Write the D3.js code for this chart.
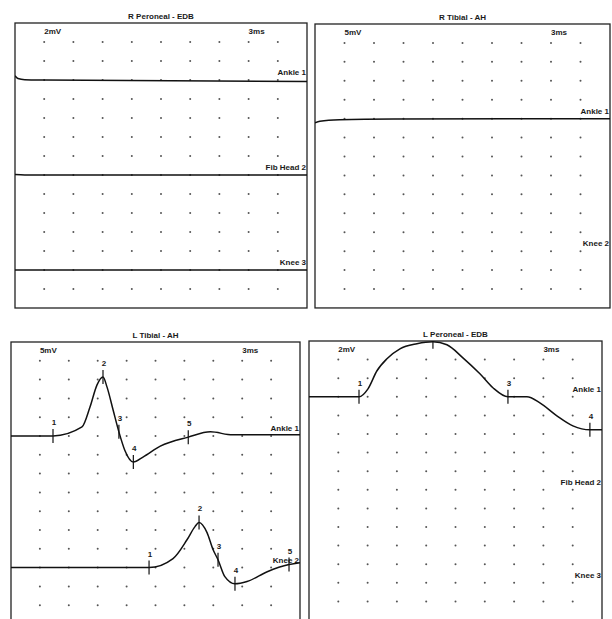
<!DOCTYPE html>
<html>
<head>
<meta charset="utf-8">
<script src="https://cdn.jsdelivr.net/npm/d3@7"></script>
<style>
body{margin:0;background:#fff;}
text{font-family:"Liberation Sans",Arial,sans-serif;font-size:8px;font-weight:bold;fill:#1a1a1a;}
</style>
</head>
<body>
<svg id="chart" width="612" height="619"></svg>
<script>
//nerve conduction traces, 4 panels

var panelTitles = ["R Peroneal - EDB", "R Tibial - AH", "L Tibial - AH", "L Peroneal - EDB"];
var gainLabels = ["2mV", "5mV", "5mV", "2mV"];
var gainValues = [2, 5, 5, 2];      //mV per division
var sweepLabel = "3ms";
var sweepValue = 3;                 //ms per division
var siteNames = [
	["Ankle 1", "Fib Head 2", "Knee 3"],
	["Ankle 1", "Knee 2"],
	["Ankle 1", "Knee 2"],
	["Ankle 1", "Fib Head 2", "Knee 3"]
];
//division on which each site's baseline sits
var siteBaseDiv = [[3, 8, 13], [5, 12], [5, 12], [3, 8, 13]];

//traces: [ms, mV]
var rPeronealAnkle = [[0,0.45],[0.3,0.15],[1,0.03],[3,0],[30,-0.15]];
var rPeronealFib = [[0,0.05],[1,0],[30,0]];
var rPeronealKnee = [[0,0],[30,0]];
var rTibialAnkle = [[0,-1.1],[0.5,-0.7],[2.5,-0.3],[8,-0.1],[30,0]];
var lTibialAnkle = [[0,0],[4.36,0],[7.37,2.4],[8.2,7.7],[8.93,13.6],[9.55,15.7],[9.97,13],[10.6,6.9],[11.2,1.1],[11.8,-3.7],[12.7,-6.9],[13.7,-5.6],[15.5,-2.7],[18.4,-0.3],[20.7,1.1],[23,0.3],[30,0.3]];
var lTibialKnee = [[0,0],[14.33,0],[16.82,2.4],[18.27,7.4],[19.1,10.9],[19.52,12],[20.35,9.3],[20.97,4.8],[21.49,2.1],[22.2,-2.4],[23.25,-4.3],[24.5,-3.7],[26.6,-1.1],[28.86,0.8],[30,1.3]];
var lPeronealAnkle = [[0,0],[5.12,0],[6.04,0.86],[6.96,2.8],[7.98,4.09],[9.31,5.16],[11.05,5.7],[12.69,5.91],[14.12,5.59],[15.76,4.19],[17.5,2.47],[18.83,0.97],[20.37,0],[22.31,0],[23.64,-0.65],[25.38,-2.04],[27.02,-3.12],[28.76,-3.55],[30,-3.55]];

//markers: [ms, label]
var lTibialAnkleMarks = [[4.36,"1"],[9.55,"2"],[11.2,"3"],[12.7,"4"],[18.4,"5"]];
var lTibialKneeMarks = [[14.33,"1"],[19.52,"2"],[21.49,"3"],[23.25,"4"],[28.86,"5"]];
var lPeronealAnkleMarks = [[5.12,"1"],[12.69,""],[20.37,"3"],[28.76,"4"]];

var panelTraces = [
	[rPeronealAnkle, rPeronealFib, rPeronealKnee],
	[rTibialAnkle],
	[lTibialAnkle, lTibialKnee],
	[lPeronealAnkle]
];
var panelMarks = [
	[[], [], []],
	[[]],
	[lTibialAnkleMarks, lTibialKneeMarks],
	[lPeronealAnkleMarks]
];

//panel boxes (pixels)
var boxes = [
	{left:15, top:23, right:307, rowH:19},
	{left:315, top:24, right:610, rowH:18.93},
	{left:11, top:342, right:300, rowH:18.8},
	{left:309, top:341, right:602, rowH:18.6}
];

var svg = d3.select("#chart");

function valueAt(trace, t){
	for(var i=1;i<trace.length;i++){
		if(t<=trace[i][0]){
			var a = trace[i-1], b = trace[i];
			var f = (t-a[0])/(b[0]-a[0]);
			return a[1]+(b[1]-a[1])*f;
		}
	}
	return trace[trace.length-1][1];
}

boxes.forEach(function(b, p){
	var bottom = b.top + 15*b.rowH;
	var x = d3.scaleLinear().domain([0, 10*sweepValue]).range([b.left, b.right]);
	var yDiv = d3.scaleLinear().domain([0, 15]).range([b.top, bottom]);
	var g = svg.append("g");

	g.append("clipPath").attr("id", "clip"+p)
		.append("rect")
		.attr("x", b.left).attr("y", b.top)
		.attr("width", b.right-b.left).attr("height", bottom-b.top);

	//title
	g.append("text")
		.attr("x", (b.left+b.right)/2)
		.attr("y", b.top-4)
		.style("text-anchor", "middle")
		.text(panelTitles[p]);

	//grid dots
	var pts = [];
	d3.range(1, 10).forEach(function(c){
		d3.range(1, 15).forEach(function(r){ pts.push([c, r]); });
	});
	g.selectAll("circle.dot").data(pts).enter().append("circle")
		.attr("class", "dot")
		.attr("cx", function(d){ return x(d[0]*sweepValue); })
		.attr("cy", function(d){ return yDiv(d[1]); })
		.attr("r", 1)
		.attr("fill", "#555");

	//frame
	g.append("rect")
		.attr("x", b.left).attr("y", b.top)
		.attr("width", b.right-b.left).attr("height", bottom-b.top)
		.attr("fill", "none")
		.attr("stroke", "#222")
		.attr("stroke-width", 1.3);

	//gain + sweep
	g.append("text").attr("x", x(sweepValue)).attr("y", b.top+11).text(gainLabels[p]);
	g.append("text").attr("x", x(8*sweepValue)).attr("y", b.top+11).text(sweepLabel);

	//site labels
	siteNames[p].forEach(function(name, i){
		g.append("text")
			.attr("x", b.right-1)
			.attr("y", yDiv(siteBaseDiv[p][i])-5)
			.style("text-anchor", "end")
			.text(name);
	});

	//traces
	var tg = g.append("g").attr("clip-path", "url(#clip"+p+")");
	panelTraces[p].forEach(function(trace, i){
		var base = siteBaseDiv[p][i];
		var yv = function(v){ return yDiv(base - v/gainValues[p]); };
		var line = d3.line()
			.x(function(d){ return x(d[0]); })
			.y(function(d){ return yv(d[1]); })
			.curve(d3.curveMonotoneX);
		tg.append("path")
			.datum(trace)
			.attr("d", line)
			.attr("fill", "none")
			.attr("stroke", "#111")
			.attr("stroke-width", 1.5);

		var marks = panelMarks[p][i];
		tg.selectAll("line.m"+i).data(marks).enter().append("line")
			.attr("class", "m"+i)
			.attr("x1", function(d){ return x(d[0]); })
			.attr("x2", function(d){ return x(d[0]); })
			.attr("y1", function(d){ return yv(valueAt(trace, d[0]))-7; })
			.attr("y2", function(d){ return yv(valueAt(trace, d[0]))+7; })
			.attr("stroke", "#111")
			.attr("stroke-width", 1.2);
		g.selectAll("text.m"+i).data(marks).enter().append("text")
			.attr("class", "m"+i)
			.attr("x", function(d){ return x(d[0])+1; })
			.attr("y", function(d){ return yv(valueAt(trace, d[0]))-11; })
			.style("text-anchor", "middle")
			.text(function(d){ return d[1]; });
	});
});
</script>
</body>
</html>
